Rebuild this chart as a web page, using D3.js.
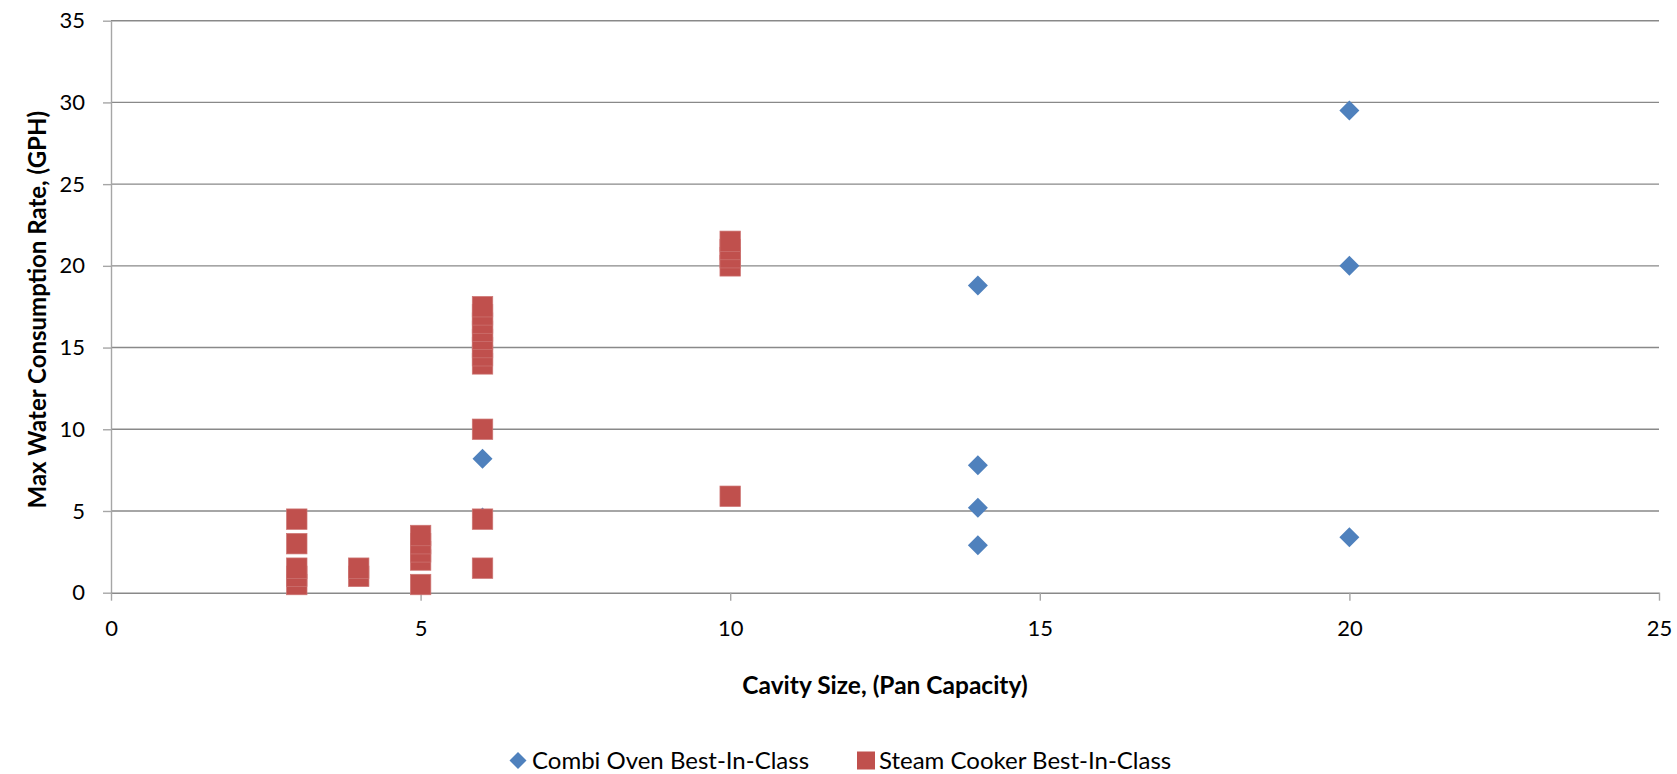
<!DOCTYPE html>
<html>
<head>
<meta charset="utf-8">
<script src="https://cdn.jsdelivr.net/npm/d3@7"></script>
<style>
  html, body { margin: 0; padding: 0; background: #fff; }
  svg { display: block; }
  text { font-family: Lato, "Open Sans", sans-serif; fill: #000; }
</style>
</head>
<body>
<svg id="chart" width="1677" height="774"></svg>
<script>
// ---- data ----
const combiX = [6, 6, 14, 14, 14, 14, 20, 20, 20];
const combiY = [8.2, 4.6, 18.8, 7.8, 5.2, 2.9, 29.5, 20, 3.4];

const steamX = [3, 3, 3, 3, 3,
                4, 4,
                5, 5, 5, 5, 5,
                6, 6, 6, 6, 6, 6, 6, 6, 6, 6, 6,
                10, 10, 10, 10, 10];
const steamY = [0.5, 1, 1.5, 3, 4.5,
                1, 1.5,
                0.5, 2, 2.5, 3, 3.5,
                1.5, 4.5, 10, 14, 14.5, 15, 15.5, 16, 16.5, 17, 17.5,
                5.9, 20, 20.5, 21, 21.5];

const xTicks = [0, 5, 10, 15, 20, 25];
const yTicks = [0, 5, 10, 15, 20, 25, 30, 35];

const seriesNames = ["Combi Oven Best-In-Class", "Steam Cooker Best-In-Class"];
const seriesColors = ["#4F81BD", "#C0504D"];
const xTitle = "Cavity Size, (Pan Capacity)";
const yTitle = "Max Water Consumption Rate, (GPH)";

// ---- layout ----
const svg = d3.select("#chart");
const pLeft = 111, pRight = 1659, pTop = 20.7, pBottom = 592.7;

const x = d3.scaleLinear().domain([0, 25]).range([pLeft, pRight]);
const y = d3.scaleLinear().domain([0, 35]).range([pBottom, pTop]);

// gridlines
svg.append("g")
  .selectAll("line")
  .data(yTicks.filter(d => d > 0))
  .join("line")
  .attr("x1", pLeft).attr("x2", pRight)
  .attr("y1", d => y(d)).attr("y2", d => y(d))
  .attr("stroke", "#898989").attr("stroke-width", 1.4);

// y axis
const yAxis = svg.append("g")
  .attr("transform", `translate(${pLeft},0)`)
  .call(d3.axisLeft(y).tickValues(yTicks).tickSize(8).tickPadding(18).tickSizeOuter(0));
yAxis.select(".domain").attr("stroke", "#a6a6a6").attr("stroke-width", 1.4);
yAxis.selectAll(".tick line").attr("stroke", "#a6a6a6").attr("stroke-width", 1.4);
yAxis.selectAll(".tick text")
  .style("font-family", "Lato, sans-serif").style("font-size", "22px").attr("fill", "#000");

// x axis
const xAxis = svg.append("g")
  .attr("transform", `translate(0,${pBottom})`)
  .call(d3.axisBottom(x).tickValues(xTicks).tickSize(8).tickPadding(20).tickSizeOuter(0));
xAxis.select(".domain").attr("stroke", "#898989").attr("stroke-width", 1.4);
xAxis.selectAll(".tick line").attr("stroke", "#a6a6a6").attr("stroke-width", 1.4);
xAxis.selectAll(".tick text")
  .style("font-family", "Lato, sans-serif").style("font-size", "22px").attr("fill", "#000");

// axis titles
svg.append("text")
  .attr("x", 885).attr("y", 694)
  .attr("text-anchor", "middle")
  .style("font-size", "24.5px").style("font-weight", "bold")
  .text(xTitle);

svg.append("text")
  .attr("transform", `translate(46,${(pTop + pBottom) / 2 + 3}) rotate(-90)`)
  .attr("text-anchor", "middle")
  .style("font-size", "24px").style("font-weight", "bold")
  .text(yTitle);

// markers
const diamond = d3.symbol().type(d3.symbolSquare).size(200);
const combi = combiX.map((v, i) => ({ x: v, y: combiY[i] }));
const steam = steamX.map((v, i) => ({ x: v, y: steamY[i] }));

svg.append("g")
  .selectAll("path")
  .data(combi)
  .join("path")
  .attr("d", diamond)
  .attr("transform", d => `translate(${x(d.x)},${y(d.y)}) rotate(45)`)
  .attr("fill", seriesColors[0]);

const sq = 20.5;
svg.append("g")
  .selectAll("rect")
  .data(steam)
  .join("rect")
  .attr("x", d => x(d.x) - sq / 2)
  .attr("y", d => y(d.y) - sq / 2)
  .attr("width", sq).attr("height", sq)
  .attr("fill", seriesColors[1])
  .attr("stroke", "#cd7674").attr("stroke-width", 0.7);

// legend
const legendY = 760.5;
const lg = svg.append("g");
lg.append("path")
  .attr("d", d3.symbol().type(d3.symbolSquare).size(145))
  .attr("transform", `translate(518,${legendY}) rotate(45)`)
  .attr("fill", seriesColors[0]);
lg.append("text")
  .attr("x", 532).attr("y", legendY).attr("dy", "0.35em")
  .style("font-size", "24px")
  .text(seriesNames[0]);
lg.append("rect")
  .attr("x", 857).attr("y", legendY - 9).attr("width", 18).attr("height", 18)
  .attr("fill", seriesColors[1]);
lg.append("text")
  .attr("x", 879).attr("y", legendY).attr("dy", "0.35em")
  .style("font-size", "24px")
  .text(seriesNames[1]);
</script>
</body>
</html>
